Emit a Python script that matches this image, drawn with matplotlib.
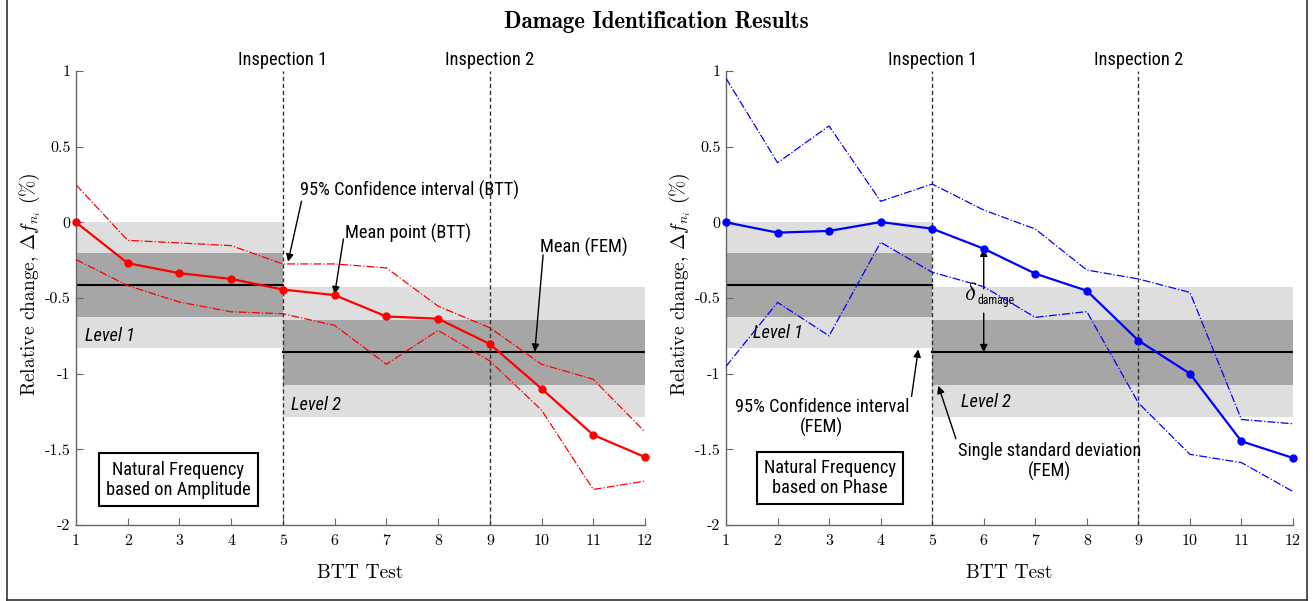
import numpy as np
import matplotlib
matplotlib.use("Agg")
import matplotlib.pyplot as plt
from matplotlib.lines import Line2D
from matplotlib import font_manager as fm

plt.rcParams['mathtext.fontset'] = 'cm'
plt.rcParams['axes.unicode_minus'] = False

tests = np.arange(1, 13)

# natural frequency from amplitude (BTT)
amp_mean = [0, -0.27, -0.336, -0.374, -0.444, -0.481, -0.622, -0.637, -0.804, -1.099, -1.405, -1.551]
amp_hi = [0.248, -0.119, -0.136, -0.154, -0.275, -0.275, -0.301, -0.554, -0.697, -0.938, -1.037, -1.385]
amp_lo = [-0.246, -0.418, -0.527, -0.591, -0.604, -0.681, -0.938, -0.714, -0.916, -1.241, -1.765, -1.71]

# natural frequency from phase (BTT)
ph_mean = [0, -0.068, -0.057, 0.002, -0.042, -0.174, -0.339, -0.452, -0.781, -1.0, -1.447, -1.557]
ph_hi = [0.952, 0.394, 0.637, 0.139, 0.253, 0.081, -0.044, -0.315, -0.374, -0.463, -1.303, -1.331]
ph_lo = [-0.952, -0.529, -0.75, -0.132, -0.330, -0.425, -0.628, -0.59, -1.193, -1.533, -1.588, -1.779]

# FEM damage levels
lvl_span = [(1, 5), (5, 12)]
lvl_mean = [-0.415, -0.858]
lvl_std = [0.21, 0.215]
lvl_ci = [0.415, 0.428]
inspections = [5, 9]

yticks = [-2, -1.5, -1, -0.5, 0, 0.5, 1]
ytick_labels = ["-2", "-1.5", "-1", "-0.5", "0", "0.5", "1"]

# narrow sans for the annotations if one is around
have = {f.name for f in fm.fontManager.ttflist}
narrow = [n for n in ['Liberation Sans Narrow', 'Roboto Condensed', 'Open Sans Condensed',
                      'Noto Sans Condensed', 'Arial Narrow'] if n in have]
if narrow:
    sans = [narrow[0], 'DejaVu Sans']
    fs = 13.2
else:
    sans = ['Roboto', 'DejaVu Sans']
    fs = 12
cm = 'cmr10'
axcol = '#666666'

fig = plt.figure(figsize=(13.13, 6.01), dpi=100)
W, H = 1313, 601
ax1 = fig.add_axes([76 / W, 1 - 525 / H, 569 / W, 454 / H])
ax2 = fig.add_axes([726 / W, 1 - 525 / H, 567 / W, 454 / H])

# frame around the figure
for xs, ys in [([7 / W, 7 / W], [0.002, 1]), ([1307 / W, 1307 / W], [0.002, 1]),
               ([7 / W, 1307 / W], [0.002, 0.002])]:
    fig.add_artist(Line2D(xs, ys, color='#333333', lw=1.2))

fig.text(0.5, 1 - 22 / H, "Damage Identification Results", ha='center', va='center',
         family='cmb10', fontsize=16.5)


def base(ax, mean, hi, lo, col):
    for (a, b), m, s, c in zip(lvl_span, lvl_mean, lvl_std, lvl_ci):
        ax.fill_between([a, b], m - c, m + c, color='#dedede', lw=0, zorder=0)
        ax.fill_between([a, b], m - s, m + s, color='#a6a6a6', lw=0, zorder=1)
        ax.plot([a, b], [m, m], color='black', lw=1.5, zorder=2)
    for i, xi in enumerate(inspections):
        ax.plot([xi, xi], [-2, 1], color='#333333', lw=1, ls=(0, (3, 2)), zorder=3)
        ax.text(xi, 1.07, f"Inspection {i + 1}", ha='center', va='center',
                family=sans, fontsize=fs)
    ax.plot(tests, hi, color=col, lw=0.9, ls='-.', zorder=4)
    ax.plot(tests, lo, color=col, lw=0.9, ls='-.', zorder=4)
    ax.plot(tests, mean, color=col, lw=1.6, marker='o', ms=5, zorder=5, clip_on=False)
    ax.set_xlim(1, 12)
    ax.set_ylim(-2, 1)
    ax.set_xticks(tests)
    ax.set_xticklabels([str(t) for t in tests], family=cm, fontsize=11.5)
    ax.set_yticks(yticks)
    ax.set_yticklabels(ytick_labels, family=cm, fontsize=11.5)
    ax.tick_params(direction='in', length=5, color=axcol, width=0.8, pad=4)
    ax.tick_params(axis='x', pad=7)
    for s in ['top', 'right']:
        ax.spines[s].set_visible(False)
    for s in ['left', 'bottom']:
        ax.spines[s].set_color(axcol)
        ax.spines[s].set_linewidth(1)
    ax.set_xlabel("BTT Test", family=cm, fontsize=14, labelpad=11)
    ax.set_ylabel(r"Relative change, $\Delta f_{n_i}$ (%)", family=cm, fontsize=14)
    ax.yaxis.set_label_coords(-0.058, 0.53)


arr = dict(arrowstyle='-|>', color='black', lw=1, mutation_scale=11, shrinkA=0, shrinkB=0)
boxp = dict(boxstyle='square,pad=0.4', fc='white', ec='black', lw=1.5)

base(ax1, amp_mean, amp_hi, amp_lo, 'red')
ax1.text(1.17, -0.75, "Level 1", family=sans, style='italic', fontsize=fs, va='center')
ax1.text(5.16, -1.21, "Level 2", family=sans, style='italic', fontsize=fs, va='center')
ax1.text(5.34, 0.21, "95% Confidence interval (BTT)", family=sans, fontsize=fs, va='center')
ax1.annotate("", xy=(5.1, -0.26), xytext=(5.36, 0.14), arrowprops=arr)
ax1.text(6.2, -0.075, "Mean point (BTT)", family=sans, fontsize=fs, va='center')
ax1.annotate("", xy=(6.0, -0.475), xytext=(6.17, -0.11), arrowprops=arr)
ax1.text(9.97, -0.165, "Mean (FEM)", family=sans, fontsize=fs, va='center')
ax1.annotate("", xy=(9.87, -0.855), xytext=(10.03, -0.215), arrowprops=arr)
ax1.text(2.98, -1.7, "Natural Frequency\nbased on Amplitude", family=sans, fontsize=fs,
         ha='center', va='center', bbox=boxp, linespacing=1.15)

base(ax2, ph_mean, ph_hi, ph_lo, 'blue')
ax2.text(1.52, -0.73, "Level 1", family=sans, style='italic', fontsize=fs, va='center')
ax2.text(5.56, -1.19, "Level 2", family=sans, style='italic', fontsize=fs, va='center')
ax2.text(2.86, -1.29, "95% Confidence interval\n(FEM)", family=sans, fontsize=fs,
         ha='center', va='center', linespacing=1.15)
ax2.annotate("", xy=(4.73, -0.84), xytext=(4.6, -1.15), arrowprops=arr)
ax2.text(7.27, -1.58, "Single standard deviation\n(FEM)", family=sans, fontsize=fs,
         ha='center', va='center', linespacing=1.15)
ax2.annotate("", xy=(5.12, -1.08), xytext=(5.46, -1.43), arrowprops=arr)
ax2.annotate("", xy=(6, ph_mean[5]), xytext=(6, -0.44), arrowprops=arr)
ax2.annotate("", xy=(6, lvl_mean[1]), xytext=(6, -0.6), arrowprops=arr)
ax2.text(5.88, -0.47, r"$\delta$", fontsize=18, va='center', ha='right')
ax2.text(5.88, -0.515, "damage", family=sans, fontsize=8.5, va='center', ha='left')
ax2.text(3.02, -1.69, "Natural Frequency\nbased on Phase", family=sans, fontsize=fs,
         ha='center', va='center', bbox=boxp, linespacing=1.15)

fig.savefig("out.png", dpi=100)
